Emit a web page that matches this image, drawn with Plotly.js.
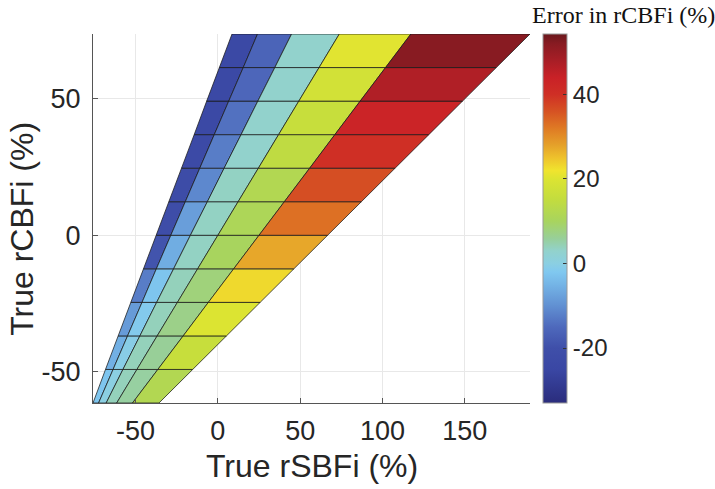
<!DOCTYPE html>
<html><head><meta charset="utf-8">
<script src="https://cdn.plot.ly/plotly-3.0.1.min.js"></script>
<style>html,body{margin:0;padding:0;background:#fff}#chart{width:715px;height:489px}</style>
</head><body><div id="chart"></div>
<script>
// True rCBFi (%) at the mesh nodes (rows)
const rCBFiNodes = [-61.5, -49.2, -36.9, -24.6, -12.3, 0, 12.3, 24.6, 36.9, 49.2, 61.5, 73.8];
// True rSBFi (%) at the mesh nodes, one row per rCBFi node
const rSBFiNodes = [
  [-75.9, -72.5, -67.9, -61.5, -51.9, -35.8],
  [-68.3, -63.7, -57.7, -49.2, -36.5, -15.3],
  [-60.6, -54.9, -47.4, -36.9, -21.1, 5.2],
  [-52.9, -46.1, -37.2, -24.6, -5.8, 25.7],
  [-45.2, -37.4, -26.9, -12.3, 9.6, 46.2],
  [-37.5, -28.6, -16.7, 0, 25, 66.7],
  [-29.8, -19.8, -6.4, 12.3, 40.4, 87.2],
  [-22.1, -11.0, 3.8, 24.6, 55.8, 107.7],
  [-14.4, -2.2, 14.1, 36.9, 71.1, 128.2],
  [-6.8, 6.6, 24.3, 49.2, 86.5, 148.7],
  [0.9, 15.4, 34.6, 61.5, 101.9, 169.2],
  [8.6, 24.1, 44.8, 73.8, 117.3, 189.7]
];
// Error in rCBFi (%) for each cell (bottom row first, left column first)
const errorRCBFi = [
  [-2.5, 0, 4, 5.5, 12],
  [-5.5, -0.5, 4, 6, 16],
  [-8.5, -1.5, 4, 7, 20],
  [-12.5, -2.5, 4, 8, 23],
  [-19, -6, 3.5, 10, 27.5],
  [-21, -8, 3.5, 11, 33],
  [-22, -11, 3.5, 12, 36.5],
  [-23, -12.5, 3, 14.5, 40],
  [-24, -14, 3, 16, 43],
  [-24, -15.5, 3, 18, 47],
  [-24, -16, 3, 20.5, 52]
];
const xTicks = [-50, 0, 50, 100, 150];
const xTickText = ['-50', '0', '50', '100', '150'];
const yTicks = [-50, 0, 50];
const yTickText = ['-50', '0', '50'];
const cbarTicks = [-20, 0, 20, 40];
const cbarTickText = ['-20', '0', '20', '40'];
const cMin = -33, cMax = 54.3;
const colorStops = [
  [-33, '#2a2c7c'], [-25, '#3a47a4'], [-20, '#3f4fa9'], [-15, '#4e69bc'],
  [-10, '#6190d2'], [-5, '#74b4e6'], [-2, '#80c8f0'], [0, '#8bcfe2'],
  [3, '#92d2cc'], [6, '#98cf98'], [10, '#a8d45e'], [15, '#c2dc3f'],
  [20, '#dce432'], [22, '#f0e42e'], [25, '#eec22c'], [28, '#e5a12a'],
  [32, '#df7a24'], [36, '#d65223'], [40, '#cf2f25'], [44, '#c92127'],
  [48, '#a81e26'], [52, '#881b22'], [54.3, '#6a181c']
];

const colorscale = colorStops.map(([v, c]) => [(v - cMin) / (cMax - cMin), c]);
colorscale[0][0] = 0; colorscale[colorscale.length - 1][0] = 1;

function hexToRgb(h) {
  const n = parseInt(h.slice(1), 16);
  return [(n >> 16) & 255, (n >> 8) & 255, n & 255];
}
function colorFor(v) {
  const t = Math.max(0, Math.min(1, (v - cMin) / (cMax - cMin)));
  for (let k = 1; k < colorscale.length; k++) {
    const [t1, c1] = colorscale[k];
    const [t0, c0] = colorscale[k - 1];
    if (t <= t1) {
      const f = (t - t0) / (t1 - t0 || 1);
      const a = hexToRgb(c0), b = hexToRgb(c1);
      return 'rgb(' + a.map((x, i) => Math.round(x + (b[i] - x) * f)).join(',') + ')';
    }
  }
  return colorscale[colorscale.length - 1][1];
}

const traces = [];
for (let i = 0; i < errorRCBFi.length; i++) {
  for (let j = 0; j < errorRCBFi[i].length; j++) {
    const xs = [rSBFiNodes[i][j], rSBFiNodes[i][j + 1], rSBFiNodes[i + 1][j + 1], rSBFiNodes[i + 1][j], rSBFiNodes[i][j]];
    const ys = [rCBFiNodes[i], rCBFiNodes[i], rCBFiNodes[i + 1], rCBFiNodes[i + 1], rCBFiNodes[i]];
    traces.push({
      type: 'scatter', mode: 'lines', x: xs, y: ys, fill: 'toself',
      fillcolor: colorFor(errorRCBFi[i][j]),
      line: {color: 'rgba(25,25,25,0.75)', width: 1},
      hoverinfo: 'skip', showlegend: false
    });
  }
}
// colorbar carrier
const allErr = errorRCBFi.flat();
traces.push({
  type: 'scatter', mode: 'markers',
  x: [rSBFiNodes[0][0], rSBFiNodes[0][0]], y: [rCBFiNodes[0], rCBFiNodes[0]],
  marker: {
    size: 0.1, opacity: 0, color: [Math.min(...allErr), Math.max(...allErr)],
    colorscale: colorscale, cmin: cMin, cmax: cMax, showscale: true,
    colorbar: {
      x: 1.029, xanchor: 'left', xref: 'paper', y: 0.5, yanchor: 'middle',
      len: 1, lenmode: 'fraction', thickness: 24, thicknessmode: 'pixels',
      xpad: 0, ypad: 0, outlinewidth: 1, outlinecolor: '#9a9a9a',
      tickvals: cbarTicks, ticktext: cbarTickText, ticks: 'inside', ticklen: 4, tickcolor: '#333',
      tickfont: {family: 'Liberation Sans, Arial, sans-serif', size: 24, color: '#262626'}
    }
  },
  hoverinfo: 'skip', showlegend: false
});

const fontSans = 'Liberation Sans, Arial, sans-serif';
const layout = {
  width: 715, height: 489,
  margin: {l: 93, r: 185, t: 34, b: 86, pad: 0},
  paper_bgcolor: '#fff', plot_bgcolor: '#fff',
  showlegend: false,
  xaxis: {
    range: [-75.9, 189.7], tickvals: xTicks, ticktext: xTickText, ticks: 'inside', ticklen: 5, tickcolor: '#555',
    showline: true, linecolor: '#555', linewidth: 1, mirror: false,
    showgrid: true, gridcolor: '#e8e8e8', gridwidth: 1, zeroline: false,
    tickfont: {family: fontSans, size: 27, color: '#262626'}, ticklabelstandoff: 4
  },
  yaxis: {
    range: [-61.5, 73.8], tickvals: yTicks, ticktext: yTickText, ticks: 'inside', ticklen: 5, tickcolor: '#555',
    showline: true, linecolor: '#555', linewidth: 1, mirror: false,
    showgrid: true, gridcolor: '#e8e8e8', gridwidth: 1, zeroline: false,
    tickfont: {family: fontSans, size: 27, color: '#262626'}, ticklabelstandoff: 6
  },
  annotations: [
    {text: 'True rSBFi (%)', xref: 'paper', yref: 'paper', x: 0.502, y: -0.17,
     xanchor: 'center', yanchor: 'middle', showarrow: false,
     font: {family: fontSans, size: 32, color: '#262626'}},
    {text: 'True rCBFi (%)', xref: 'paper', yref: 'paper', x: -0.1625, y: 0.472,
     xanchor: 'center', yanchor: 'middle', showarrow: false, textangle: -90,
     font: {family: fontSans, size: 32, color: '#262626'}},
    {text: 'Error in rCBFi (%)', xref: 'paper', yref: 'paper', x: 1.214, y: 1.0514,
     xanchor: 'center', yanchor: 'middle', showarrow: false,
     font: {family: 'Liberation Serif, Times New Roman, serif', size: 24, color: '#111'}}
  ]
};
Plotly.newPlot('chart', traces, layout, {displayModeBar: false, staticPlot: true});
</script>
</body></html>
